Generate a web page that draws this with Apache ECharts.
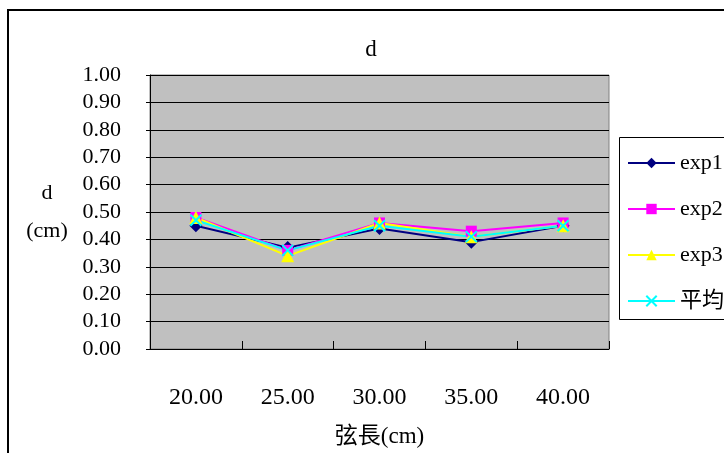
<!DOCTYPE html>
<html>
<head>
<meta charset="utf-8">
<script src="https://cdn.jsdelivr.net/npm/echarts@6/dist/echarts.min.js"></script>
<style>
  html, body { margin: 0; padding: 0; background: #fff; }
  #chart { width: 724px; height: 453px; }
</style>
</head>
<body>
<div id="chart"></div>
<script>
// Chord length categories (cm)
const categories = ['20.00', '25.00', '30.00', '35.00', '40.00'];

// Measured d (cm) per run
const exp1 = [0.45, 0.37, 0.44, 0.39, 0.45];
const exp2 = [0.48, 0.36, 0.46, 0.43, 0.46];
const exp3 = [0.48, 0.34, 0.46, 0.41, 0.45];
const avg  = [0.47, 0.36, 0.45, 0.41, 0.45];

const seriesNames = ['exp1', 'exp2', 'exp3', '平均'];

const SERIF = '"Liberation Serif", "Noto Sans CJK TC", serif';

const crossSymbol = 'path://M0,0 L10,10 M10,0 L0,10';

const chart = echarts.init(document.getElementById('chart'), null, { renderer: 'canvas' });

function lineSeries(name, data, color, symbol, size, extra) {
  return Object.assign({
    name: name,
    type: 'line',
    data: data,
    symbol: symbol,
    symbolSize: size,
    showAllSymbol: true,
    lineStyle: { color: color, width: 2 },
    itemStyle: { color: color },
    emphasis: { disabled: true },
    z: 3
  }, extra || {});
}

chart.setOption({
  animation: false,
  backgroundColor: '#ffffff',
  title: {
    text: 'd',
    left: 366,
    top: 33,
    textAlign: 'center',
    textStyle: { fontFamily: SERIF, fontSize: 23, fontWeight: 'normal', color: '#000' }
  },
  legend: {
    orient: 'vertical',
    left: 622,
    top: 147,
    itemWidth: 47,
    itemHeight: 13,
    itemGap: 24,
    data: seriesNames,
    textStyle: { fontFamily: SERIF, fontSize: 22, color: '#000', lineHeight: 22 },
    selectedMode: false
  },
  graphic: [
    {
      type: 'rect',
      shape: { x: 8, y: 10, width: 740, height: 460 },
      style: { fill: 'none', stroke: '#000', lineWidth: 2 },
      silent: true
    },
    {
      type: 'rect',
      shape: { x: 619.5, y: 137.5, width: 120, height: 182 },
      style: { fill: '#fff', stroke: '#000', lineWidth: 1 },
      silent: true,
      z: -1
    }
  ],
  grid: {
    left: 150,
    top: 75,
    width: 459,
    height: 275,
    show: true,
    backgroundColor: '#c0c0c0',
    borderColor: '#808080',
    borderWidth: 1
  },
  xAxis: {
    type: 'category',
    data: categories,
    boundaryGap: true,
    name: '弦長(cm)',
    nameLocation: 'middle',
    nameGap: 76,
    nameTextStyle: { fontFamily: SERIF, fontSize: 23, color: '#000' },
    axisLine: { lineStyle: { color: '#000', width: 1 } },
    axisTick: { show: true, inside: true, length: 8, lineStyle: { color: '#000' } },
    axisLabel: { fontFamily: SERIF, fontSize: 24, color: '#000', margin: 37 },
    splitLine: { show: false }
  },
  yAxis: {
    type: 'value',
    min: 0,
    max: 1,
    interval: 0.1,
    name: 'd\n(cm)',
    nameLocation: 'middle',
    nameRotate: 0,
    nameGap: 103,
    nameTextStyle: { fontFamily: SERIF, fontSize: 22, color: '#000', align: 'center', lineHeight: 38 },
    axisLine: { show: true, lineStyle: { color: '#000', width: 1 } },
    axisTick: { show: true, length: 4, lineStyle: { color: '#000' } },
    axisLabel: {
      fontFamily: SERIF, fontSize: 22, color: '#000', margin: 29,
      formatter: function (v) { return v.toFixed(2); }
    },
    splitLine: { show: true, lineStyle: { color: '#000', width: 1 } }
  },
  series: [
    lineSeries('exp1', exp1, '#000080', 'diamond', 13),
    lineSeries('exp2', exp2, '#ff00ff', 'rect', 11),
    lineSeries('exp3', exp3, '#ffff00', 'triangle', 13),
    lineSeries('平均', avg, '#00ffff', crossSymbol, 11, {
      itemStyle: { color: 'none', borderColor: '#00ffff', borderWidth: 2 }
    })
  ]
});
</script>
</body>
</html>
